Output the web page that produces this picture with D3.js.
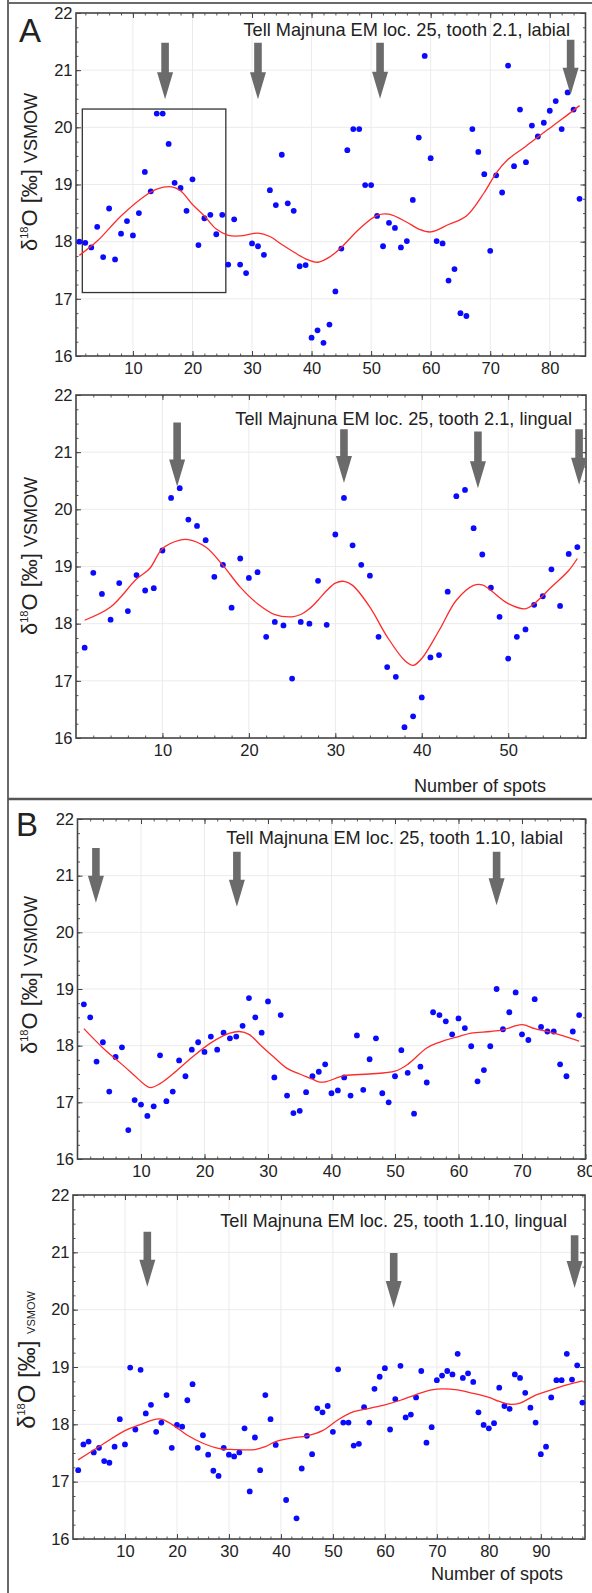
<!DOCTYPE html>
<html><head><meta charset="utf-8">
<script src="https://cdn.jsdelivr.net/npm/d3@7"></script>
<style>
body{margin:0;background:#fff}
svg{display:block}
text{font-family:"Liberation Sans",Arial,Helvetica,sans-serif;fill:#222}
</style>
</head><body>
<svg id="chart" width="592" height="1593"></svg>
<script>
// ---------------- DATA ----------------
const yTicks = [16, 17, 18, 19, 20, 21, 22];

// Panel A, tooth 2.1 labial (spots 1..85)
const a1Title = "Tell Majnuna EM loc. 25, tooth 2.1, labial";
const a1Ticks = [10, 20, 30, 40, 50, 60, 70, 80];
const a1Values = [18.0,17.98,17.9,18.26,17.73,18.58,17.69,18.14,18.36,18.11,
  18.5,19.22,18.88,20.24,20.24,19.71,19.03,18.94,18.54,19.09,
  17.94,18.41,18.47,18.13,18.47,17.6,18.39,17.6,17.45,17.97,
  17.92,17.77,18.9,18.64,19.52,18.67,18.54,17.57,17.59,16.32,
  16.45,16.23,16.55,17.13,17.88,19.6,19.97,19.97,18.99,18.99,
  18.45,17.92,18.33,18.24,17.9,18.01,18.73,19.82,21.25,19.46,
  18.01,17.97,17.32,17.52,16.75,16.7,19.97,19.57,19.18,17.84,
  19.16,18.86,21.08,19.32,20.31,19.39,20.03,19.84,20.08,20.29,
  20.46,19.97,20.61,20.31,18.75];
const a1SmoothX = [1,4,8,12,14,16.5,18,20,22,24,26,28,31,33,35,37,39,41,43,45,48,51,53,56,58,60,63,66,69,71,73,76,79,82,85];
const a1SmoothY = [17.76,18.01,18.45,18.8,18.92,18.96,18.89,18.65,18.45,18.22,18.11,18.1,18.15,18.09,17.95,17.82,17.7,17.64,17.73,17.9,18.22,18.46,18.48,18.34,18.22,18.17,18.3,18.45,18.86,19.2,19.44,19.67,19.91,20.14,20.38];
const a1ArrowX = [15.4, 31, 51.5, 83.5];
const a1ArrowTop = [21.48, 21.48, 21.48, 21.53];
const a1ArrowTip = [20.49, 20.49, 20.5, 20.57];
const a1BoxX = [1.5, 25.6];
const a1BoxY = [17.11, 20.32];

// Panel A, tooth 2.1 lingual (spots 1..58)
const a2Title = "Tell Majnuna EM loc. 25, tooth 2.1, lingual";
const a2Ticks = [10, 20, 30, 40, 50];
const a2Values = [17.58,18.89,18.52,18.07,18.71,18.22,18.85,18.58,18.62,19.28,
  20.2,20.37,19.82,19.71,19.46,18.82,19.03,18.28,19.14,18.8,
  18.9,17.77,18.03,17.97,17.04,18.03,18.0,18.75,17.98,19.56,
  20.2,19.37,19.03,18.84,17.77,17.24,17.07,16.19,16.38,16.71,
  17.41,17.45,18.56,20.23,20.34,19.67,19.21,18.63,18.12,17.39,
  17.77,17.9,18.33,18.48,18.95,18.31,19.22,19.34];
const a2SmoothX = [1,4,7,8.5,10,12,13,15,17,19,21,23,25,26,27,28,29,30,31,32,34,36,38,39,40,42,44,46,47,48,50,52,53,55,57,58];
const a2SmoothY = [18.06,18.29,18.78,18.96,19.31,19.46,19.47,19.34,19.02,18.64,18.35,18.16,18.12,18.16,18.26,18.41,18.58,18.71,18.74,18.67,18.29,17.77,17.36,17.27,17.39,17.88,18.41,18.67,18.68,18.58,18.35,18.26,18.35,18.64,18.93,19.14];
const a2ArrowX = [11.7, 31, 46.5, 58.2];
const a2ArrowTop = [21.52, 21.4, 21.36, 21.4];
const a2ArrowTip = [20.4, 20.46, 20.37, 20.43];

// Panel B, tooth 1.10 labial (spots 1..79)
const b1Title = "Tell Majnuna EM loc. 25, tooth 1.10, labial";
const b1Ticks = [10, 20, 30, 40, 50, 60, 70, 80];
const b1Values = [18.73,18.5,17.72,18.06,17.19,17.8,17.97,16.51,17.04,16.96,
  16.76,16.93,17.83,17.02,17.19,17.74,17.46,17.93,18.06,17.89,
  18.16,17.93,18.23,18.13,18.16,18.35,18.84,18.5,18.23,18.78,
  17.44,18.54,17.12,16.81,16.85,17.18,17.46,17.54,17.67,17.16,
  17.21,17.44,17.12,18.18,17.22,17.76,18.13,17.16,17.0,17.46,
  17.92,17.52,16.8,17.63,17.35,18.59,18.54,18.43,18.2,18.48,
  18.31,17.99,17.37,17.57,17.99,19.0,18.29,18.59,18.94,18.2,
  18.1,18.82,18.33,18.25,18.25,17.67,17.46,18.25,18.54];
const b1SmoothX = [1,4,7,9,10.5,11.5,13,15,18,21,24,25.5,27,29,31,33,35,37,38,39,42,46,50,52,55,57,60,62,65,67,70,72,75,79];
const b1SmoothY = [18.3,17.96,17.67,17.47,17.32,17.26,17.33,17.5,17.79,18.05,18.22,18.25,18.2,17.99,17.79,17.6,17.5,17.41,17.36,17.36,17.47,17.5,17.55,17.67,17.96,18.06,18.16,18.22,18.25,18.28,18.37,18.3,18.22,18.08];
const b1ArrowX = [2.9, 25.1, 66];
const b1ArrowTop = [21.49, 21.42, 21.42];
const b1ArrowTip = [20.52, 20.45, 20.48];

// Panel B, tooth 1.10 lingual (spots 1..98; spots 40 and 42 not plotted)
const b2Title = "Tell Majnuna EM loc. 25, tooth 1.10, lingual";
const b2Ticks = [10, 20, 30, 40, 50, 60, 70, 80, 90];
const b2Values = [17.2,17.65,17.7,17.51,17.59,17.36,17.33,17.61,18.09,17.65,
  18.99,17.91,18.95,18.19,18.34,17.87,18.03,18.51,17.59,17.99,
  17.96,18.42,18.7,17.59,17.81,17.47,17.19,17.1,17.59,17.47,
  17.44,17.51,17.93,16.83,17.77,17.2,18.51,18.09,17.64,null,
  16.68,null,16.36,17.23,17.8,17.48,18.28,18.21,18.32,17.87,
  18.96,18.03,18.03,17.63,17.66,18.3,18.03,18.62,18.83,18.98,
  17.91,18.44,19.02,18.12,18.17,18.47,18.93,17.68,17.95,18.77,
  18.85,18.93,18.87,19.23,18.81,18.89,18.74,18.21,17.99,17.93,
  18.02,18.64,18.32,18.27,18.87,18.81,18.55,18.29,18.03,17.48,
  17.61,18.47,18.77,18.77,19.23,18.78,19.03,18.38];
const b2SmoothX = [1,5,10,13,16,17,19,22,25,28,31,35,37,39,42,45,48,51,54,57,60,63,66,69,71,74,77,80,82,84,86,89,92,95,98];
const b2SmoothY = [17.38,17.61,17.89,18.0,18.09,18.09,18.0,17.81,17.67,17.58,17.56,17.56,17.61,17.7,17.76,17.8,17.89,18.08,18.22,18.28,18.34,18.42,18.52,18.6,18.62,18.6,18.54,18.47,18.4,18.35,18.37,18.51,18.6,18.69,18.76];
const b2ArrowX = [14.3, 61.7, 96.5];
const b2ArrowTop = [21.36, 20.99, 21.3];
const b2ArrowTip = [20.4, 20.03, 20.38];

// ---------------- LAYOUT ----------------
const svg = d3.select("#chart");
const FONT_TICK = 16.5;

const panels = [
  {values:a1Values, sx:a1SmoothX, sy:a1SmoothY, ticks:a1Ticks, title:a1Title,
   ax:a1ArrowX, at:a1ArrowTop, ap:a1ArrowTip, box:[a1BoxX,a1BoxY],
   l:76, r:585.5, t:13, b:356, xd:[0.44, 86], titleX:570, titleY:36,
   ylab:{x:37, y:172, big:22, small:18, sup:11}},
  {values:a2Values, sx:a2SmoothX, sy:a2SmoothY, ticks:a2Ticks, title:a2Title,
   ax:a2ArrowX, at:a2ArrowTop, ap:a2ArrowTip,
   l:76, r:586, t:395, b:738, xd:[0, 59], titleX:572, titleY:425,
   ylab:{x:37, y:556, big:22, small:18, sup:11}, xlab:{x:480, y:792}},
  {values:b1Values, sx:b1SmoothX, sy:b1SmoothY, ticks:b1Ticks, title:b1Title,
   ax:b1ArrowX, at:b1ArrowTop, ap:b1ArrowTip,
   l:77.5, r:585.5, t:819, b:1159, xd:[0, 80], titleX:563, titleY:844,
   ylab:{x:37, y:975, big:22, small:18, sup:11}},
  {values:b2Values, sx:b2SmoothX, sy:b2SmoothY, ticks:b2Ticks, title:b2Title,
   ax:b2ArrowX, at:b2ArrowTop, ap:b2ArrowTip,
   l:73, r:585, t:1195, b:1539, xd:[0, 98.5], titleX:567, titleY:1227,
   ylab:{x:35, y:1360, big:24, small:11, sup:11}, xlab:{x:497, y:1580}}
];

// figure frame
svg.append("line").attr("x1",8).attr("x2",8).attr("y1",0).attr("y2",1593)
  .attr("stroke","#6a6a6a").attr("stroke-width",2);
svg.append("line").attr("x1",8).attr("x2",592).attr("y1",3).attr("y2",3)
  .attr("stroke","#6a6a6a").attr("stroke-width",2);
svg.append("line").attr("x1",8).attr("x2",592).attr("y1",799).attr("y2",799)
  .attr("stroke","#555").attr("stroke-width",2.5);

svg.append("text").attr("x",19).attr("y",42).attr("font-size",33).text("A");
svg.append("text").attr("x",16).attr("y",836).attr("font-size",33).text("B");

function drawPanel(p) {
  const x = d3.scaleLinear().domain(p.xd).range([p.l, p.r]);
  const y = d3.scaleLinear().domain([16, 22]).range([p.b, p.t]);
  const g = svg.append("g");

  // grid
  g.append("g").selectAll("line").data(p.ticks.filter(v => x(v) < p.r - 1)).join("line")
    .attr("x1", d => x(d)).attr("x2", d => x(d)).attr("y1", p.t).attr("y2", p.b)
    .attr("stroke", "#ebebeb").attr("stroke-width", 1);
  g.append("g").selectAll("line").data(yTicks.slice(1, -1)).join("line")
    .attr("x1", p.l).attr("x2", p.r).attr("y1", d => y(d)).attr("y2", d => y(d))
    .attr("stroke", "#ebebeb").attr("stroke-width", 1);

  // minor tick values
  const xMinor = d3.range(Math.ceil(p.xd[0] / 2) * 2, p.xd[1], 2).filter(v => v > p.xd[0]);
  const yMinor = d3.range(16, 22.001, 0.25);

  function axisPair(axisFn, scale, translate, major, minor, labels, pad) {
    const gm = g.append("g").attr("transform", translate)
      .call(axisFn(scale).tickValues(minor).tickSizeInner(-2.5).tickSizeOuter(0).tickFormat(""));
    gm.select(".domain").remove();
    gm.selectAll("line").attr("stroke", "#555");
    const gM = g.append("g").attr("transform", translate)
      .call(axisFn(scale).tickValues(major).tickSizeInner(-5).tickSizeOuter(0)
        .tickPadding(pad).tickFormat(labels ? d3.format("d") : ""));
    gM.select(".domain").remove();
    gM.selectAll("line").attr("stroke", "#444");
    gM.selectAll("text").attr("font-size", FONT_TICK).attr("font-family", null).attr("fill", "#222");
    return gM;
  }
  axisPair(d3.axisBottom, x, `translate(0,${p.b})`, p.ticks, xMinor, true, 6.5);
  axisPair(d3.axisTop, x, `translate(0,${p.t})`, p.ticks, xMinor, false, 3);
  axisPair(d3.axisLeft, y, `translate(${p.l},0)`, yTicks, yMinor, true, 3.5);
  axisPair(d3.axisRight, y, `translate(${p.r},0)`, yTicks, yMinor, false, 3);

  // frame
  g.append("rect").attr("x", p.l).attr("y", p.t).attr("width", p.r - p.l).attr("height", p.b - p.t)
    .attr("fill", "none").attr("stroke", "#444").attr("stroke-width", 1.6);

  // highlight box
  if (p.box) {
    g.append("rect").attr("x", x(p.box[0][0])).attr("y", y(p.box[1][1]))
      .attr("width", x(p.box[0][1]) - x(p.box[0][0])).attr("height", y(p.box[1][0]) - y(p.box[1][1]))
      .attr("fill", "none").attr("stroke", "#333").attr("stroke-width", 1.3);
  }

  // points
  const pts = p.values.map((v, i) => ({ n: i + 1, v })).filter(d => d.v !== null);
  g.append("g").selectAll("circle").data(pts).join("circle")
    .attr("cx", d => x(d.n)).attr("cy", d => y(d.v)).attr("r", 2.9).attr("fill", "#0a0aff");

  // smoothed curve
  const sm = p.sx.map((v, i) => [v, p.sy[i]]);
  g.append("path").datum(sm)
    .attr("d", d3.line().x(d => x(d[0])).y(d => y(d[1])).curve(d3.curveCatmullRom.alpha(0.5)))
    .attr("fill", "none").attr("stroke", "#ff2a2a").attr("stroke-width", 1.3);

  // arrows
  p.ax.forEach((ax, i) => {
    const cx = x(ax), top = y(p.at[i]), tip = y(p.ap[i]);
    const headH = 27, sw = 3.8, hw = 8;
    const hs = tip - headH;
    const path = `M${cx - sw},${top} L${cx + sw},${top} L${cx + sw},${hs} L${cx + hw},${hs} L${cx},${tip} L${cx - hw},${hs} L${cx - sw},${hs} Z`;
    g.append("path").attr("d", path).attr("fill", "#6b6b6b");
  });

  // title
  g.append("text").attr("x", p.titleX).attr("y", p.titleY).attr("text-anchor", "end")
    .attr("font-size", 18.2).text(p.title);

  // y label
  const yl = g.append("text").attr("transform", `translate(${p.ylab.x},${p.ylab.y}) rotate(-90)`)
    .attr("text-anchor", "middle").attr("fill", "#333");
  yl.append("tspan").attr("font-size", p.ylab.big).text("δ");
  yl.append("tspan").attr("font-size", p.ylab.sup).attr("dy", -p.ylab.big * 0.42).text("18");
  yl.append("tspan").attr("font-size", p.ylab.big).attr("dy", p.ylab.big * 0.42).text("O [‰] ");
  yl.append("tspan").attr("font-size", p.ylab.small).text("VSMOW");

  if (p.xlab) {
    g.append("text").attr("x", p.xlab.x).attr("y", p.xlab.y).attr("text-anchor", "middle")
      .attr("font-size", 18).text("Number of spots");
  }
}
panels.forEach(drawPanel);
</script>
</body></html>
